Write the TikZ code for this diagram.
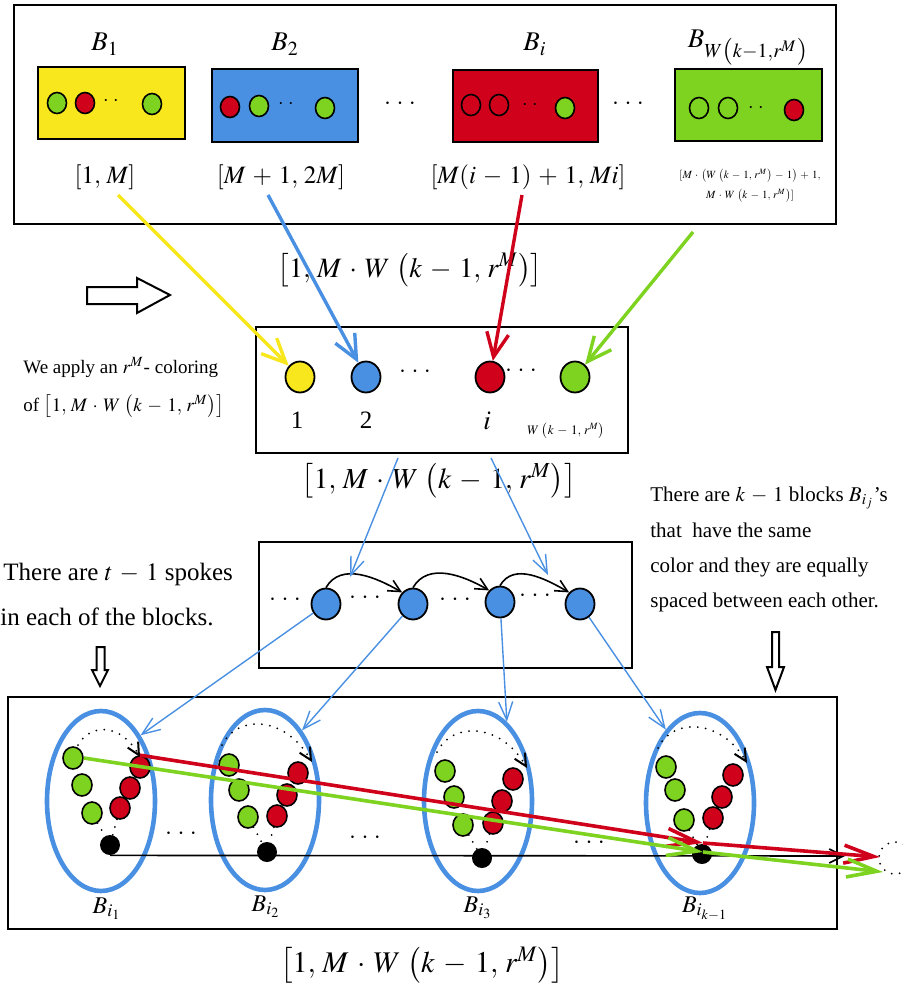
\documentclass[tikz,border=0pt]{standalone}
\usepackage{mathptmx}
\usepackage{fontspec}
\setmainfont{Liberation Serif}
\usetikzlibrary{arrows.meta,shapes.geometric}

\definecolor{kyellow}{HTML}{F8E71C}
\definecolor{kblue}{HTML}{4A90E2}
\definecolor{kred}{HTML}{D0021B}
\definecolor{kgreen}{HTML}{7ED321}

\medmuskip=5mu plus 2mu minus 2mu
\thinmuskip=4mu

\tikzset{
  frame/.style={draw,line width=1pt},
  blockbox/.style={draw,line width=1pt,inner sep=0pt},
  pt/.style={ellipse,draw,line width=0.8pt,inner sep=0pt,minimum width=9.5pt,minimum height=10.5pt},
  bigpt/.style={ellipse,draw,line width=0.9pt,inner sep=0pt,minimum width=14.5pt,minimum height=15.5pt},
  spot/.style={ellipse,draw,line width=0.8pt,inner sep=0pt,minimum width=10pt,minimum height=11pt},
  hub/.style={circle,fill=black,inner sep=0pt,minimum size=10pt},
  ring/.style={ellipse,draw=kblue,line width=2.3pt,inner sep=0pt,minimum width=54pt,minimum height=90pt},
  feed/.style={line width=1.7pt,-{Straight Barb[length=12pt,width=11pt]}},
  link/.style={kblue,line width=0.7pt,-{Straight Barb[length=9pt,width=7pt]}},
  hop/.style={line width=0.8pt,-{Straight Barb[length=6pt,width=6pt]}},
  dotarc/.style={line width=1pt,dash pattern=on 0pt off 4pt,line cap=round},
  track/.style={line width=1.8pt,-{Straight Barb[length=15pt,width=9pt]}},
  hollow/.style={draw,line width=1pt,fill=white},
  blabel/.style={font=\fontsize{13.5}{16}\selectfont},
  rlabel/.style={font=\fontsize{12.5}{15}\selectfont},
  ringlabel/.style={font=\fontsize{12}{14}\selectfont,inner sep=1pt},
  brk/.style={font=\fontsize{14}{16}\selectfont},
  note/.style={font=\fontsize{9.5}{12}\selectfont,inner sep=0pt},
  remark/.style={font=\fontsize{10.5}{12}\selectfont,inner sep=0pt},
  side/.style={font=\fontsize{12.5}{15}\selectfont,inner sep=0pt},
}

\begin{document}
\begin{tikzpicture}[x=0.5pt,y=-0.5pt]
\useasboundingbox (0,0) rectangle (903,995);

% blocks B_1 ... B_W
\draw[frame] (14,5) rectangle (836,224);
\node[blockbox,fill=kyellow,minimum width=73.5pt,minimum height=36pt] (blk1) at (111.5,103) {};
\node[blockbox,fill=kblue,minimum width=73pt,minimum height=36.5pt] (blk2) at (285,105.5) {};
\node[blockbox,fill=kred,minimum width=72.5pt,minimum height=36pt] (blki) at (525.5,106) {};
\node[blockbox,fill=kgreen,minimum width=73.5pt,minimum height=36pt] (blkw) at (748.5,105) {};

\node[blabel,anchor=base] (lb1) at (105,51) {$B_1$};
\node[blabel,anchor=base] (lb2) at (285,51) {$B_2$};
\node[blabel,anchor=base] (lbi) at (535,51) {$B_i$};
\node[blabel,anchor=base] (lbw) at (748,48) {$B_{W\left(k-1,r^M\right)}$};

\node[pt,fill=kgreen] (a1) at (57,103) {};
\node[pt,fill=kred] (a2) at (85,103) {};
\node (a3) at (111,101) {$\cdot\,\cdot$};
\node[pt,fill=kgreen] (a4) at (152,104) {};

\node[pt,fill=kred] (b1) at (230,107) {};
\node[pt,fill=kgreen] (b2) at (259,106) {};
\node (b3) at (286,104) {$\cdot\,\cdot$};
\node[pt,fill=kgreen] (b4) at (325,108) {};

\node[pt,fill=kred] (i1) at (471,105) {};
\node[pt,fill=kred] (i2) at (499,105) {};
\node (i3) at (530,105) {$\cdot\,\cdot$};
\node[pt,fill=kgreen] (i4) at (565,108) {};

\node[pt,fill=kgreen] (w1) at (699,108) {};
\node[pt,fill=kgreen] (w2) at (728,108) {};
\node (w3) at (756,108) {$\cdot\,\cdot$};
\node[pt,fill=kred] (w4) at (794,110) {};

\node[rlabel] (gap1) at (400,104) {$\cdots$};
\node[rlabel] (gap2) at (628,104) {$\cdots$};

\node[rlabel,anchor=base] (rg1) at (105,184) {$[1,M]$};
\node[rlabel,anchor=base] (rg2) at (281,184) {$[M+1,2M]$};
\node[rlabel,anchor=base] (rgi) at (528,184) {$[M(i-1)+1,Mi]$};
\node[font=\fontsize{5.5}{10}\selectfont,align=center] (rgw) at (750,186)
  {$[M\cdot\left(W\left(k-1,r^M\right)-1\right)+1,$\\ $M\cdot W\left(k-1,r^M\right)]$};

\node[brk] (br1) at (410,270) {$\left[1,M\cdot W\left(k-1,r^M\right)\right]$};

% the coloring of the blocks
\draw[hollow] (87,287) -- (137,287) -- (137,278) -- (170,295) -- (137,313) -- (137,304) -- (87,304) -- cycle;
\node[note,anchor=base west] (ap1) at (23,373) {We apply an $r^M$- coloring};
\node[note,anchor=base west] (ap2) at (23,411) {of $\left[1,M\cdot W\left(k-1,r^M\right)\right]$};

\draw[frame] (256,327) rectangle (628,453);
\node[bigpt,fill=kyellow] (dy) at (300,377) {};
\node[bigpt,fill=kblue] (db) at (366,377) {};
\node[rlabel] (dgap1) at (415,372) {$\cdots$};
\node[bigpt,fill=kred] (dr) at (490,377) {};
\node[rlabel] (dgap2) at (521,371) {$\cdots$};
\node[bigpt,fill=kgreen] (dg) at (575,377) {};
\node[rlabel] (n1) at (297,420) {1};
\node[rlabel] (n2) at (366,420) {2};
\node[blabel] (ni) at (487,421) {$i$};
\node[font=\fontsize{6.5}{8}\selectfont] (nw) at (566,431) {$W\left(k-1,r^M\right)$};

\coordinate (ys) at (118,195);
\coordinate (bs) at (268,195);
\coordinate (rs) at (522,195);
\coordinate (gs) at (693,232);
\draw[feed,kyellow] (ys) -- (dy);
\draw[feed,kblue] (bs) -- (db);
\draw[feed,kred] (rs) -- (dr);
\draw[feed,kgreen] (gs) -- (dg);

\node[brk,font=\fontsize{14.5}{16}\selectfont] (br2) at (439,481) {$\left[1,M\cdot W\left(k-1,r^M\right)\right]$};

% blocks of the same colour
\draw[frame] (259,542) rectangle (632,668);
\node[rlabel] (cgap0) at (285,600) {$\cdots$};
\node[bigpt,fill=kblue] (c1) at (326,604) {};
\node[rlabel] (cgap1) at (365,598) {$\cdots$};
\node[bigpt,fill=kblue] (c2) at (413,604) {};
\node[rlabel] (cgap2) at (455,600) {$\cdots$};
\node[bigpt,fill=kblue] (c3) at (500,602) {};
\node[rlabel] (cgap3) at (535,596) {$\cdots$};
\node[bigpt,fill=kblue] (c4) at (580,604) {};
\draw[hop] (c1.north) to[out=60,in=150] (c2.north west);
\draw[hop] (c2.north) to[out=60,in=150] (c3.north west);
\draw[hop] (c3.north) to[out=60,in=150] (c4.north west);

\coordinate (m1) at (398,458);
\coordinate (m2) at (491,458);
\coordinate (t1) at (350,577);
\coordinate (t2) at (548,575);
\draw[link] (m1) -- (t1);
\draw[link] (m2) -- (t2);

\node[side,anchor=base west] (sp1) at (3,580) {There are $t-1$ spokes};
\node[side,anchor=base west] (sp2) at (0,625) {in each of the blocks.};
\draw[hollow] (96.5,647) -- (104.5,647) -- (104.5,670) -- (108,670) -- (100,686) -- (92,670) -- (96.5,670) -- cycle;

\node[remark,anchor=base west] (eq1) at (650,501) {There are $k-1$ blocks $B_{i_j}$'s};
\node[remark,anchor=base west] (eq2) at (650,537) {that\ \ have the same};
\node[remark,anchor=base west] (eq3) at (650,572) {color and they are equally};
\node[remark,anchor=base west] (eq4) at (650,607) {spaced between each other.};
\draw[hollow] (772,632) -- (779,632) -- (779,667) -- (784,667) -- (775.5,690) -- (767,667) -- (772,667) -- cycle;

% the spokes
\draw[frame] (8,697) rectangle (837,929);
\node[ring] (ring1) at (101,801) {};
\node[ring] (ring2) at (265,800) {};
\node[ring] (ring3) at (478,801) {};
\node[ring] (ring4) at (700,803) {};
\draw[link] (c1) -- (ring1.59);
\draw[link] (c2) -- (ring2.62);
\draw[link] (c3) -- (ring3.70);
\draw[link] (c4) -- (ring4.115);

\node[ringlabel,anchor=base] (rl1) at (107,913) {$B_{i_1}$};
\node[ringlabel,anchor=base] (rl2) at (266,911) {$B_{i_2}$};
\node[ringlabel,anchor=base] (rl3) at (478,912) {$B_{i_3}$};
\node[ringlabel,anchor=base] (rl4) at (705,912) {$B_{i_{k-1}}$};

\node[spot,fill=kgreen] (e1g1) at (73,758) {};
\node[spot,fill=kgreen] (e1g2) at (82,785) {};
\node[spot,fill=kgreen] (e1g3) at (92,813) {};
\node[spot,fill=kred] (e1r1) at (140,767) {};
\node[spot,fill=kred] (e1r2) at (130,788) {};
\node[spot,fill=kred] (e1r3) at (120,808) {};
\node[hub] (e1b) at (110,845) {};
\draw[dotarc] (e1g3) -- (e1b);
\draw[dotarc] (e1r3) -- (e1b);
\draw[dotarc,-{Straight Barb[length=6pt,width=6pt]}] (78,745) .. controls (90,724) and (120,722) .. (140,757);

\node[spot,fill=kgreen] (e2g1) at (229,765) {};
\node[spot,fill=kgreen] (e2g2) at (239,790) {};
\node[spot,fill=kgreen] (e2g3) at (248,817) {};
\node[spot,fill=kred] (e2r1) at (298,773) {};
\node[spot,fill=kred] (e2r2) at (287,795) {};
\node[spot,fill=kred] (e2r3) at (277,816) {};
\node[hub] (e2b) at (267,852) {};
\draw[dotarc] (e2g3) -- (e2b);
\draw[dotarc] (e2r3) -- (e2b);
\draw[dotarc,-{Straight Barb[length=6pt,width=6pt]}] (222,745) .. controls (238,714) and (285,716) .. (312,762);

\node[spot,fill=kgreen] (e3g1) at (445,771) {};
\node[spot,fill=kgreen] (e3g2) at (454,797) {};
\node[spot,fill=kgreen] (e3g3) at (463,825) {};
\node[spot,fill=kred] (e3r1) at (513,779) {};
\node[spot,fill=kred] (e3r2) at (502,801) {};
\node[spot,fill=kred] (e3r3) at (493,823) {};
\node[hub] (e3b) at (482,858) {};
\draw[dotarc] (e3g3) -- (e3b);
\draw[dotarc] (e3r3) -- (e3b);
\draw[dotarc,-{Straight Barb[length=6pt,width=6pt]}] (437,752) .. controls (452,722) and (500,722) .. (527,768);

\node[spot,fill=kgreen] (e4g1) at (666,767) {};
\node[spot,fill=kgreen] (e4g2) at (675,790) {};
\node[spot,fill=kgreen] (e4g3) at (684,820) {};
\node[spot,fill=kred] (e4r1) at (733,775) {};
\node[spot,fill=kred] (e4r2) at (722,797) {};
\node[spot,fill=kred] (e4r3) at (713,818) {};
\node[hub] (e4b) at (702,854) {};
\draw[dotarc] (e4g3) -- (e4b);
\draw[dotarc] (e4r3) -- (e4b);
\draw[dotarc,-{Straight Barb[length=6pt,width=6pt]}] (658,748) .. controls (672,718) and (720,718) .. (747,763);

\node[rlabel] (egap1) at (181,834) {$\cdots$};
\node[rlabel] (egap2) at (365,838) {$\cdots$};
\node[rlabel] (egap3) at (589,843) {$\cdots$};

\coordinate (hubend) at (845,856);
\draw[line width=0.8pt,-{Straight Barb[length=7pt,width=7pt]}] (e1b.south) -- (hubend);

\node[circle,draw,dotarc,minimum size=16pt,inner sep=0pt] (tail) at (895,858) {};
\coordinate (rmid) at (703,843);
\coordinate (rend) at (880,857);
\coordinate (gmid) at (703,852);
\coordinate (gend) at (883,872);
\draw[track,kred] (e1r1.north) -- (rmid);
\draw[track,kred] (rmid) -- (rend);
\draw[track,kgreen] (e1g1.east) -- (gmid);
\draw[track,kgreen] (gmid) -- (gend);

\node[brk,font=\fontsize{15}{17}\selectfont,inner sep=0pt] (br3) at (422,965) {$\left[1,M\cdot W\left(k-1,r^M\right)\right]$};
\end{tikzpicture}
\end{document}
